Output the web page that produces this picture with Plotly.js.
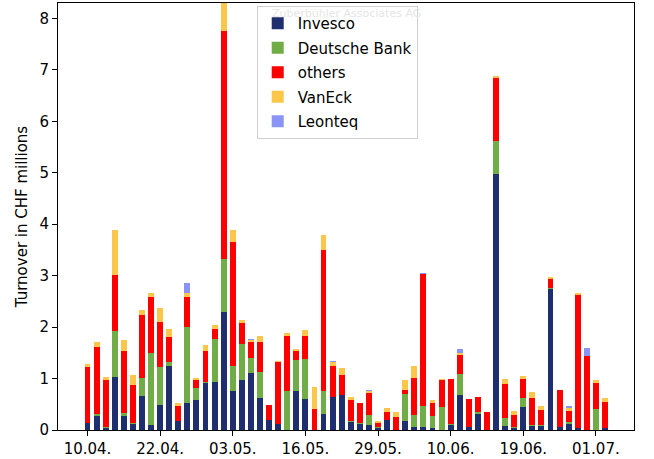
<!DOCTYPE html>
<html>
<head>
<meta charset="utf-8">
<script src="https://cdn.plot.ly/plotly-3.0.1.min.js"></script>
<style>html,body{margin:0;padding:0;background:#fff;}#chart{width:654px;height:459px;}</style>
</head>
<body>
<div id="chart"></div>
<script>
// tick labels (every 8th trading day)
const tickLabels = ["10.04.","22.04.","03.05.","16.05.","29.05.","10.06.","19.06.","01.07."];
const tickEvery = 8;

// series values (CHF millions), one value per trading day
const invesco = [0.14,0.28,0.03,1.04,0.27,0.11,0.67,0.10,0.49,1.25,0.17,0.53,0.58,0.91,0.94,2.30,0.76,0.98,1.11,0.62,
  0.19,0.12,0,0.76,0.60,0,0.32,0.64,0.69,0.15,0.11,0.10,0.03,0.19,0,0.17,0.06,0.06,0.03,0,
  0.10,0.69,0.06,0.32,0,4.98,0.08,0.03,0.44,0.08,0.08,2.74,0.06,0.12,0.03,0,0,0.03];
const deutscheBank = [0,0.03,0.03,0.88,0.06,0.02,0.35,1.40,0.73,0.07,0,1.48,0.24,0.03,0.83,1.02,0.49,0.69,0.29,0.51,
  0,0,0.76,0.60,0.78,0,0.44,0,0,0.02,0.02,0.20,0.03,0,0,0.53,0.24,0.40,0.25,0.44,
  0.02,0.40,0,0.03,0,0.64,0.16,0.02,0.18,0.01,0.02,0.02,0,0.03,0,0,0.41,0];
const others = [1.08,1.30,0.92,1.10,1.21,0.74,1.22,1.08,0.88,0.49,0.29,0.57,0.16,0.60,0.20,4.44,2.41,0.41,0.32,0.59,
  0.30,1.20,1.07,0.18,0.45,0.40,2.74,0.61,0.38,0.42,0.39,0.42,0.08,0.16,0.26,0.08,0.72,2.57,0.25,0.54,
  0.88,0.36,0.54,0.29,0.35,1.22,0.65,0.25,0.38,0.53,0.29,0.18,0.72,0.22,2.59,1.43,0.50,0.52];
const vanEck = [0.07,0.11,0.06,0.86,0.20,0.20,0.10,0.09,0.27,0.16,0.07,0.09,0.03,0.12,0.07,0.75,0.23,0.05,0.03,0.10,
  0,0.03,0.05,0.03,0.12,0.44,0.29,0.07,0.13,0.05,0,0.03,0.03,0.07,0.09,0.20,0.23,0.01,0.05,0.02,
  0,0.05,0,0,0,0.04,0.11,0.07,0.05,0.11,0.07,0.04,0,0.05,0.05,0,0.07,0.07];
const leonteq = [0,0,0,0,0,0,0,0,0,0,0,0.18,0,0,0,0,0,0,0.02,0,
  0,0,0,0,0,0,0,0.03,0,0,0,0.02,0,0,0,0,0,0.02,0,0,
  0,0.07,0,0,0,0,0,0,0,0,0,0,0,0.04,0,0.16,0,0];

const seriesNames = ["Invesco","Deutsche Bank","others","VanEck","Leonteq"];
const seriesValues = [invesco, deutscheBank, others, vanEck, leonteq];
const seriesColors = ["#1f2e6e","#70ad47","#ff0000","#fcc64a","#8a94f7"];

const xs = invesco.map((_, i) => i);
const tickVals = tickLabels.map((_, i) => i * tickEvery);

const font = "DejaVu Sans, sans-serif";
const traces = seriesNames.map((name, k) => ({
  type: "bar",
  name: name,
  x: xs,
  y: seriesValues[k],
  width: 0.65,
  legendgroup: name,
  marker: {color: seriesColors[k], line: {width: 0}},
  hoverinfo: "y+name"
}));

const layout = {
  width: 654, height: 459,
  margin: {l: 58, r: 20, t: 3, b: 29},
  paper_bgcolor: "#ffffff", plot_bgcolor: "#ffffff",
  barmode: "stack",
  font: {family: font, size: 15, color: "#000"},
  xaxis: {
    range: [-3.25, 60.2], tickvals: tickVals, ticktext: tickLabels,
    showgrid: false, zeroline: false, showline: true, mirror: true,
    linecolor: "#000", linewidth: 1, ticks: "outside", ticklen: 5, tickcolor: "#000",
    tickfont: {family: font, size: 15, color: "#000"}
  },
  yaxis: {
    range: [0, 8.3], tickvals: [0,1,2,3,4,5,6,7,8],
    showgrid: false, zeroline: false, showline: true, mirror: true,
    linecolor: "#000", linewidth: 1, ticks: "outside", ticklen: 5, tickcolor: "#000",
    tickfont: {family: font, size: 15, color: "#000"},
    title: {text: "Turnover in CHF millions", font: {family: font, size: 15, color: "#000"}, standoff: 8}
  },
  legend: {
    x: 0.345, y: 0.993, xanchor: "left", yanchor: "top",
    bgcolor: "rgba(255,255,255,0.8)", bordercolor: "#d0d0d0", borderwidth: 1,
    font: {family: font, size: 15, color: "#000"},
    traceorder: "grouped", tracegroupgap: 2, itemwidth: 30
  },
  annotations: [{
    text: "Zuberbühler Associates AG", xref: "paper", yref: "paper",
    x: 0.50, y: 0.975, xanchor: "center", yanchor: "middle", showarrow: false,
    font: {family: font, size: 11, color: "#e6e6e6"}
  }],
  showlegend: true
};

Plotly.newPlot("chart", traces, layout, {displayModeBar: false, staticPlot: true});
</script>
</body>
</html>
